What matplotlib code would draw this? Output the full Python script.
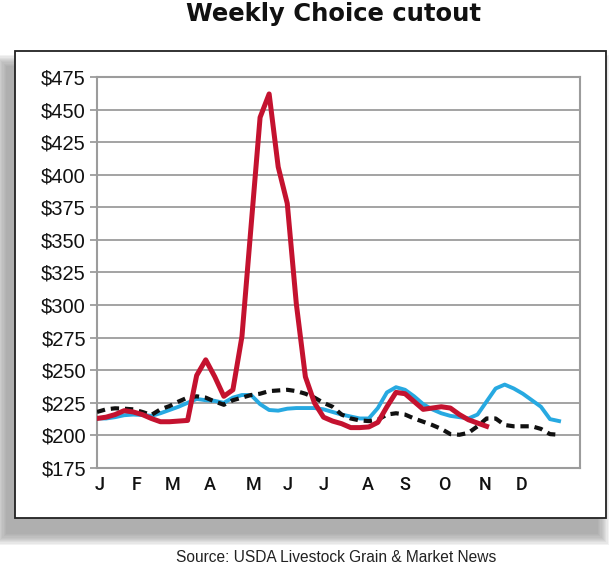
import matplotlib
matplotlib.use("Agg")
import matplotlib.pyplot as plt
from matplotlib.patches import Rectangle

# ---- data (weekly, $/cwt) ----
weeks_red = list(range(44))
red = [213, 214, 216, 219, 218, 216, 213, 210.5, 210.5, 211, 211.5, 246, 258, 245,
       230, 235, 276, 360, 444, 462, 406, 378, 301, 245, 225, 214, 211, 209, 206,
       206, 206.5, 210, 222, 233, 232, 226, 220, 221, 222, 221, 216, 212, 209.5, 207]

weeks_blue = list(range(52))
blue = [213, 213, 214, 215.5, 216, 215.7, 215, 217, 219.5, 222, 225, 228, 227, 226.5,
        225, 229, 231, 231, 224, 219.5, 219, 220.5, 221, 221, 221, 220, 218, 216,
        214.5, 213, 213, 221, 233, 237, 235, 230, 224, 220, 217, 215, 214, 213, 216,
        226, 236, 239, 236, 232, 227, 222, 212.5, 211]

weeks_black = list(range(52))
black = [218, 220, 220.8, 220.5, 220, 218, 215.7, 220, 222.5, 226, 229, 230, 229, 226,
         223.5, 227, 229, 231, 232, 234, 234.5, 235, 234, 232, 229, 225, 222, 216,
         213, 211.5, 211, 212, 216, 217, 216, 213, 210.5, 208, 205, 201, 200.5, 202,
         207, 213, 213, 208, 207, 207, 207, 205, 201, 200.5]

month_labels = ["J", "F", "M", "A", "M", "J", "J", "A", "S", "O", "N", "D"]
month_pos = [0.3, 4.4, 8.3, 12.4, 17.3, 21.0, 25.0, 29.9, 34.0, 38.3, 42.8, 46.9]

y_ticks = list(range(175, 476, 25))
y_labels = ["${}".format(v) for v in y_ticks]

title = "Weekly Choice cutout"
source = "Source: USDA Livestock Grain & Market News"

# ---- figure ----
W, H = 610, 567
fig = plt.figure(figsize=(W / 100, H / 100), dpi=100)
fig.patch.set_facecolor("white")

def fx(px):
    return px / W

def fy(py):
    return 1 - py / H

# blurred shadow (offset left/down)
sx0, sy0, sx1, sy1 = 6, 66, 598, 534
for i in range(10):
    g = i * 1.2
    r = Rectangle((fx(sx0 - g), fy(sy1 + g)), fx(sx1 - sx0 + 2 * g), (sy1 - sy0 + 2 * g) / H,
                  transform=fig.transFigure, facecolor="#8f8f8f", edgecolor="none",
                  alpha=0.11, zorder=0)
    fig.add_artist(r)

# white panel with black border
px0, py0, px1, py1 = 15, 51, 606, 518
panel = Rectangle((fx(px0), fy(py1)), fx(px1 - px0), (py1 - py0) / H,
                  transform=fig.transFigure, facecolor="white", edgecolor="#222222",
                  linewidth=1.3, zorder=1)
fig.add_artist(panel)

# axes area
ax_l, ax_r, ax_t, ax_b = 97, 580, 77, 468
ax = fig.add_axes([fx(ax_l), fy(ax_b), fx(ax_r - ax_l), (ax_b - ax_t) / H], zorder=2)
ax.set_facecolor("white")

px_per_week = 9.06
ax.set_xlim(0, (ax_r - ax_l) / px_per_week)
ax.set_ylim(175, 475)

grid_c = "#9c9c9c"
ax.set_yticks(y_ticks)
ax.set_yticklabels(y_labels, fontsize=14.5, family=["Liberation Sans", "DejaVu Sans"],
                   color="#111111")
ax.yaxis.grid(True, color=grid_c, linewidth=1.3)
ax.set_axisbelow(True)
ax.tick_params(axis="y", length=5, width=1.3, color=grid_c, pad=3)

ax.set_xticks(month_pos)
ax.set_xticklabels(month_labels, fontsize=13, family=["Roboto", "DejaVu Sans"],
                   fontweight="medium", color="#111111")
ax.tick_params(axis="x", length=0, pad=6)

for s in ax.spines.values():
    s.set_color(grid_c)
    s.set_linewidth(1.5)

ax.plot(weeks_blue, blue, color="#27a9e1", linewidth=2.8, solid_joinstyle="round", zorder=3)
ax.plot(weeks_black, black, color="#111111", linewidth=3.0, linestyle=(0, (2.0, 1.4)), zorder=4)
ax.plot(weeks_red, red, color="#c4122f", linewidth=3.6, solid_joinstyle="round", zorder=5)

fig.text(fx(333), fy(14), title, ha="center", va="center", fontsize=17.5,
         family=["DejaVu Sans"], fontweight="bold", color="#111111")
fig.text(fx(336), fy(557), source, ha="center", va="center", fontsize=11.2,
         family=["Liberation Sans", "DejaVu Sans"], color="#222222")

fig.savefig("out.png", dpi=100)
